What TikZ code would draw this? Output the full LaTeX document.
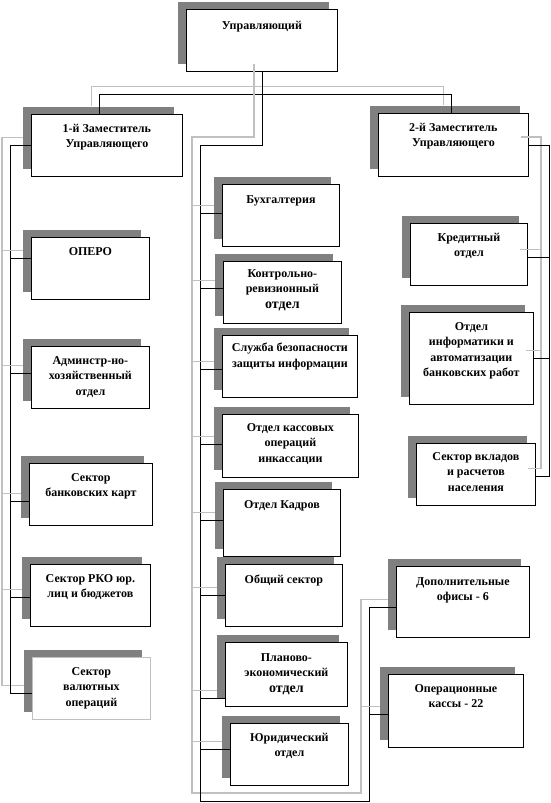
\documentclass[tikz,border=0pt]{standalone}
\usepackage{fontspec}
\setmainfont{Liberation Serif}
\usetikzlibrary{positioning,shadows}
\definecolor{boxshade}{HTML}{808080}
\definecolor{wireshade}{HTML}{C0C0C0}

\begin{document}
\begin{tikzpicture}[x=1pt,y=-1pt,
  unit/.style={draw,line width=0.8pt,fill=white,anchor=north west,inner sep=0pt,
    drop shadow={shadow xshift=-8pt,shadow yshift=7.5pt,fill=boxshade,opacity=1}},
  lab/.style={anchor=north,yshift=-10pt,inner sep=0pt,align=center,
    font=\bfseries\fontsize{12}{15.5}\selectfont},
  wire/.style={line width=0.7pt,preaction={draw=wireshade,line width=1.3pt,
    transform canvas={xshift=-8pt,yshift=8pt}}}]
\useasboundingbox (0,0) rectangle (551,803);

% head and deputies
\node[unit,minimum width=151pt,minimum height=62pt,label={[lab,yshift=-2pt]north:Управляющий}] (mgr) at (186,9) {};
\node[unit,minimum width=151pt,minimum height=62pt,label={[lab]north:1-й Заместитель\\Управляющего}] (dep1) at (31,114) {};
\node[unit,minimum width=150pt,minimum height=63pt,label={[lab]north:2-й Заместитель\\Управляющего}] (dep2) at (378,113) {};

% left column
\node[unit,minimum width=118pt,minimum height=62pt,label={[lab]north:ОПЕРО}] (opero) at (31,237) {};
\node[unit,minimum width=118pt,minimum height=62pt,label={[lab]north:Админстр-но-\\хозяйственный\\отдел}] (admin) at (31,346) {};
\node[unit,minimum width=123pt,minimum height=62pt,label={[lab]north:Сектор\\банковских карт}] (cards) at (29,463) {};
\node[unit,minimum width=120pt,minimum height=62pt,label={[lab]north:Сектор РКО юр.\\лиц и бюджетов}] (rko) at (30,564) {};
\node[unit,draw=wireshade,minimum width=118pt,minimum height=62pt,label={[lab]north:Сектор\\валютных\\операций}] (fx) at (32,657) {};

% middle column
\node[unit,minimum width=117pt,minimum height=62pt,label={[lab,yshift=-1pt]north:Бухгалтерия}] (acct) at (222,184) {};
\node[unit,minimum width=118pt,minimum height=62pt,label={[lab,yshift=2pt]north:Контрольно-\\ревизионный\\{\fontsize{14}{15.5}\selectfont отдел}}] (audit) at (223,261) {};
\node[unit,minimum width=135pt,minimum height=62pt,label={[lab,yshift=2pt]north:Служба безопасности\\защиты информации}] (sec) at (222,335) {};
\node[unit,minimum width=136pt,minimum height=63pt,label={[lab,yshift=1pt]north:Отдел кассовых\\операций\\инкассации}] (cash) at (222,414) {};
\node[unit,minimum width=117pt,minimum height=67pt,label={[lab,yshift=-1pt]north:Отдел Кадров}] (hr) at (223,489) {};
\node[unit,minimum width=117pt,minimum height=62pt,label={[lab,yshift=-1pt]north:Общий сектор}] (gen) at (225,564) {};
\node[unit,minimum width=122pt,minimum height=64pt,label={[lab,yshift=-1pt]north:Планово-\\экономический\\{\fontsize{14}{15.5}\selectfont отдел}}] (plan) at (225,642) {};
\node[unit,minimum width=118pt,minimum height=62pt,label={[lab]north:Юридический\\отдел}] (legal) at (230,723) {};

% right column
\node[unit,minimum width=117pt,minimum height=62pt,label={[lab]north:Кредитный\\отдел}] (credit) at (410,223) {};
\node[unit,minimum width=124pt,minimum height=92pt,label={[lab]north:Отдел\\информатики и\\автоматизации\\банковских работ}] (it) at (409,312) {};
\node[unit,minimum width=119pt,minimum height=62pt,label={[lab,yshift=1pt]north:Сектор вкладов\\и расчетов\\населения}] (dep) at (416,443) {};
\node[unit,minimum width=133pt,minimum height=71pt,label={[lab,yshift=-1pt]north:Дополнительные\\офисы - 6}] (offices) at (396,566) {};
\node[unit,minimum width=135pt,minimum height=73pt,label={[lab]north:Операционные\\кассы - 22}] (tills) at (388,674) {};

% attach points and trunks
\foreach \n/\d in {opero/10,admin/4,cards/-7,rko/-2,fx/-5,acct/2,audit/4,sec/-3,cash/1.5,hr/2.5,gen/0,plan/-24,legal/5,offices/-5.5,tills/-3.5}
  \coordinate (\n-in) at ([yshift=\d]\n.west);
\foreach \n/\d in {credit/-3,it/0,dep/-2}
  \coordinate (\n-in) at ([yshift=\d]\n.east);
\coordinate (lt) at (10,0);
\coordinate (mk) at (200,145);
\coordinate (mb) at (200,801);
\coordinate (rb) at (369,801);
\coordinate (rt) at (549,0);
\coordinate (bar) at ([yshift=-23pt]mgr.south);

% connectors
\draw[wire] ([xshift=-7.5pt]dep1.north) |- (bar) -| ([xshift=-2pt]dep2.north);
\draw[wire] (mgr.south) |- (mk) -- (mb) -- (rb) |- (offices-in);
\draw[wire] (dep1.west) -| (lt |- fx-in) -- (fx-in);
\draw[wire] (dep2.east) -| (rt |- dep-in) -- (dep-in);
\foreach \n in {opero,admin,cards,rko}
  \draw[wire] (lt |- \n-in) -- (\n-in);
\foreach \n in {acct,audit,sec,cash,hr,gen,plan,legal}
  \draw[wire] (mk |- \n-in) -- (\n-in);
\draw[wire] (rb |- tills-in) -- (tills-in);
\foreach \n in {credit,it}
  \draw[wire] (rt |- \n-in) -- (\n-in);
\end{tikzpicture}
\end{document}
